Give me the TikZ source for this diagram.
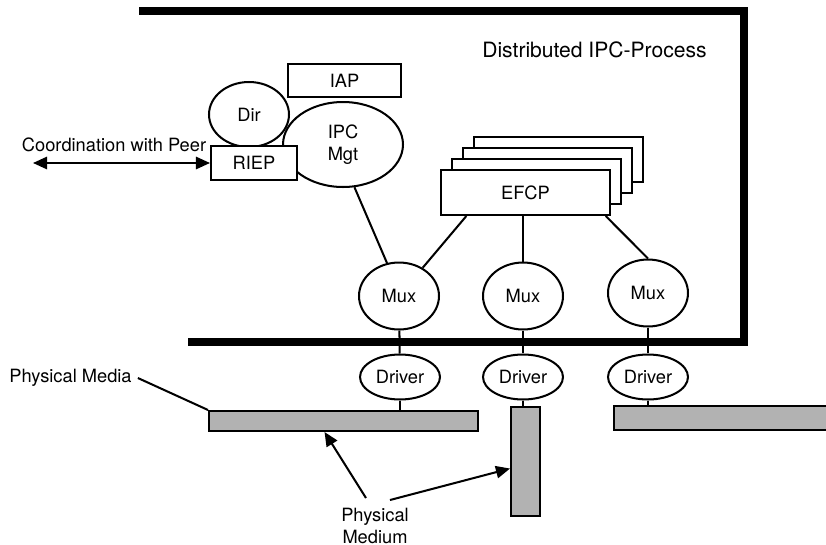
\documentclass[tikz,border=0pt]{standalone}
\usepackage{fontspec}
\setmainfont{TeX Gyre Heros}
\usetikzlibrary{arrows.meta,shapes.geometric,calc}
\newcommand{\lbl}{\fontsize{10.4}{12.5}\selectfont}

\begin{document}
\begin{tikzpicture}[x=0.02cm, y=-0.02cm,
  box/.style={draw, fill=white, line width=1.15pt, inner sep=0pt, font=\lbl},
  oval/.style={ellipse, draw, fill=white, line width=1.15pt, inner sep=0pt, font=\lbl},
  medium/.style={draw, fill=black!30, line width=1.15pt, inner sep=0pt},
  link/.style={line width=1.15pt},
  arrow/.style={{Triangle[length=8pt,width=7pt]}-{Triangle[length=8pt,width=7pt]}, line width=1.15pt},
  pointer/.style={-{Triangle[length=8pt,width=7pt]}, line width=1.15pt},
  frame/.style={line width=0.16cm}
]
\clip (0,0) rectangle (826,545);

% Frame of the IPC process
\draw[frame] (139,11) -- (744,11) -- (744,342) -- (188,342);
\node[font=\fontsize{12}{14}\selectfont] (title) at (594.5,50) {Distributed IPC-Process};

% Management part
\node[oval, minimum width=2.4cm, minimum height=1.7cm, align=center] (ipc) at (343,144.5) {IPC\\Mgt};
\node[oval, minimum width=1.6cm, minimum height=1.3cm] (dir) at (249,114.5) {Dir};
\node[box, minimum width=2.26cm, minimum height=0.66cm] (iap) at (344.5,80.5) {IAP};
\node[box, minimum width=1.72cm, minimum height=0.68cm] (riep) at (254,163) {RIEP};

% Peer coordination
\node[font=\lbl] (coord) at (114,145) {Coordination with Peer};
\coordinate (peer) at (33,163);
\draw[arrow] (peer) -- (riep.west);

% EFCP instances
\foreach \k in {3,2,1}
  \node[box, minimum width=3.38cm, minimum height=0.9cm] (efcp\k) at ({525.5+11*\k},{192.5-11*\k}) {};
\node[box, minimum width=3.38cm, minimum height=0.9cm] (efcp) at (525.5,192.5) {EFCP};

% Multiplexers
\node[oval, minimum width=1.6cm, minimum height=1.34cm] (mux1) at (399,296) {Mux};
\node[oval, minimum width=1.6cm, minimum height=1.34cm] (mux2) at (523,296) {Mux};
\node[oval, minimum width=1.6cm, minimum height=1.34cm] (mux3) at (648,293) {Mux};

% Drivers
\node[oval, minimum width=1.6cm, minimum height=0.9cm] (drv1) at (400,377) {Driver};
\node[oval, minimum width=1.6cm, minimum height=0.9cm] (drv2) at (523,377) {Driver};
\node[oval, minimum width=1.6cm, minimum height=0.9cm] (drv3) at (648,377) {Driver};

% Physical media
\node[medium, minimum width=5.38cm, minimum height=0.4cm] (bar1) at (343.5,421) {};
\node[medium, minimum width=0.58cm, minimum height=2.18cm] (bar2) at (525.5,461.5) {};
\node[medium, minimum width=4.52cm, minimum height=0.48cm] (bar3) at (727,418) {};

% Links
\draw[link] (ipc.-75) -- (mux1.110);
\draw[link] ([xshift=15pt]efcp.south west) -- (mux1.50);
\draw[link] (mux2.north |- efcp.south) -- (mux2.north);
\draw[link] ([xshift=-3pt]efcp.south east) -- (mux3.north);
\draw[link] (mux1) -- (drv1);
\draw[link] (mux2) -- (drv2);
\draw[link] (mux3) -- (drv3);
\draw[link] (drv1) -- (drv1 |- bar1.north);
\draw[link] (drv2) -- (drv2 |- bar2.north);
\draw[link] (drv3) -- (drv3 |- bar3.north);

% Labels for the media
\node[font=\lbl] (pmedia) at (70.5,378) {Physical Media};
\draw[link] (pmedia.east) -- (bar1.north west);
\node[font=\lbl, align=center] (pmedium) at (375,526) {Physical\\Medium};
\draw[pointer] ($(pmedium.north)+(-9,-4)$) -- ($(bar1.south west)!0.43!(bar1.south east)$);
\draw[pointer] ($(pmedium.north)+(15,-2)$) -- ([yshift=-4pt]bar2.west);

\end{tikzpicture}
\end{document}
